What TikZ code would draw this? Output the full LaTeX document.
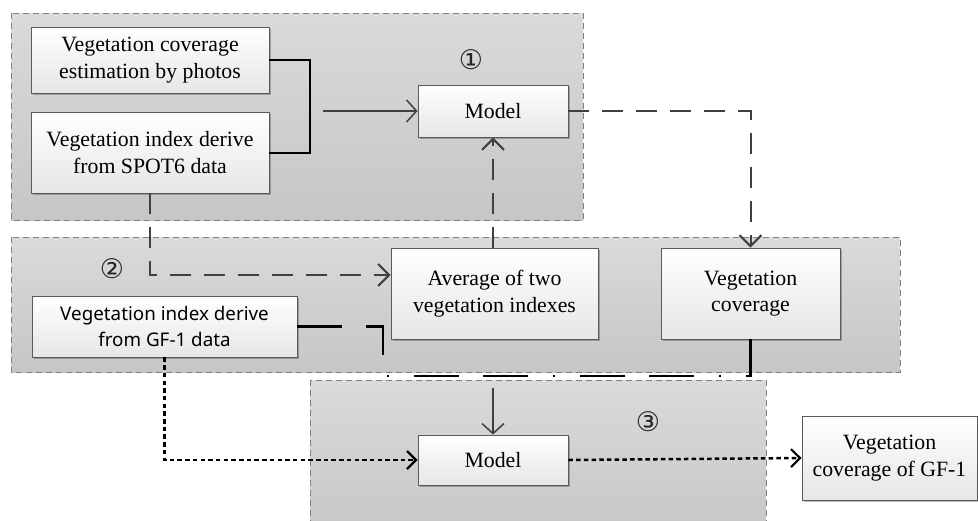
\documentclass[tikz,border=0pt]{standalone}
\usepackage{fontspec}
\setmainfont{Liberation Serif}
\newfontfamily\sansf{Noto Sans}
\newfontfamily\circf{DejaVu Sans}
\usetikzlibrary{arrows.meta,shadows}
\definecolor{panelTop}{HTML}{DADADA}
\definecolor{panelBot}{HTML}{C6C6C6}
\definecolor{panelLine}{HTML}{808080}
\definecolor{boxLine}{HTML}{5A5A5A}
\definecolor{boxBot}{HTML}{E6E6E6}
\definecolor{conn}{HTML}{404040}
\begin{document}
\begin{tikzpicture}[x=1pt,y=-1pt,
  panel/.style={top color=panelTop,bottom color=panelBot,draw=panelLine,line width=0.9pt,dash pattern=on 6pt off 4pt},
  box/.style={draw=boxLine,line width=0.9pt,top color=white,bottom color=boxBot,inner sep=0pt,align=center,
    drop shadow={shadow xshift=1.5pt,shadow yshift=-1.5pt,opacity=0.25,fill=black},
    font=\fontsize{21.8}{26.5}\selectfont},
  sbox/.style={box,font=\sansf\fontsize{18.8}{26}\selectfont},
  circ/.style={font=\circf\fontsize{27}{27}\selectfont,text=black!85,inner sep=0pt},
  bracketline/.style={black,line width=2pt},
  solidarrow/.style={conn,line width=1.5pt,-{Straight Barb[length=10pt,width=22pt,line width=1.5pt]}},
  dasharrow/.style={conn,line width=2pt,dash pattern=on 21pt off 13pt,-{Straight Barb[length=11pt,width=22pt,line width=2pt]}},
  dashdotline/.style={black,line width=2.5pt,dash pattern=on 45pt off 24pt on 45pt off 25pt on 2pt off 25pt},
  dotarrow/.style={black,line width=2.5pt,dash pattern=on 4.5pt off 3.2pt,-{Straight Barb[length=9pt,width=18pt,line width=2.2pt]}}
]
\useasboundingbox (0,0) rectangle (978,520);
\clip (0,0) rectangle (978,520);
% panels
\path[panel] (11,13) rectangle (583,220);
\path[panel] (11,237) rectangle (900,372);
\path[panel] (310,380) rectangle (766,540);
% labels
\node[circ] (c1) at (471,60) {①};
\node[circ] (c2) at (112,269) {②};
\node[circ] (c3) at (648,422) {③};
% boxes
\node[box,minimum width=238pt,minimum height=66pt] (A) at (150,60) {Vegetation coverage\\estimation by photos};
\node[box,minimum width=238pt,minimum height=81pt] (B) at (150,152.5) {Vegetation index derive\\from SPOT6 data};
\node[box,minimum width=150pt,minimum height=52pt] (M1) at (493,111) {Model};
\node[box,minimum width=207pt,minimum height=91pt] (Avg) at (494.5,293.5) {Average of two\\vegetation indexes};
\node[box,minimum width=179pt,minimum height=91pt] (VC) at (750.5,293.5) {Vegetation\\coverage};
\node[sbox,minimum width=265pt,minimum height=61pt] (GF) at (164.5,326.5) {Vegetation index derive\\from GF-1 data};
\node[box,minimum width=150pt,minimum height=50pt] (M3) at (493,460) {Model};
\node[box,minimum width=175pt,minimum height=84pt] (Cov) at (889.5,458) {Vegetation\\coverage of GF-1};
% coordinates
\coordinate (arrStart) at (323,111);
\coordinate (spotTurn) at (150,275);
\coordinate (mergeStart) at (493,388);
% connectors
\draw[bracketline] (A.east) -- ++(41,0) |- (B.east);
\draw[solidarrow] (arrStart) -- (M1.west);
\draw[dasharrow] (M1.east) -| (VC.north);
\draw[dasharrow] (Avg.north -| M1.south) -- (M1.south);
\draw[dasharrow] (B.south) -- (spotTurn) -- (spotTurn -| Avg.west);
\draw[dashdotline] (GF.east) -- (383,326.5) -- (383,376) -- (VC.south |- 0,376) -- (VC.south);
\draw[solidarrow] (mergeStart) -- (M3.north);
\draw[dotarrow] (GF.south) |- (M3.west);
\draw[dotarrow] (M3.east) -- (Cov.west);
\end{tikzpicture}
\end{document}
